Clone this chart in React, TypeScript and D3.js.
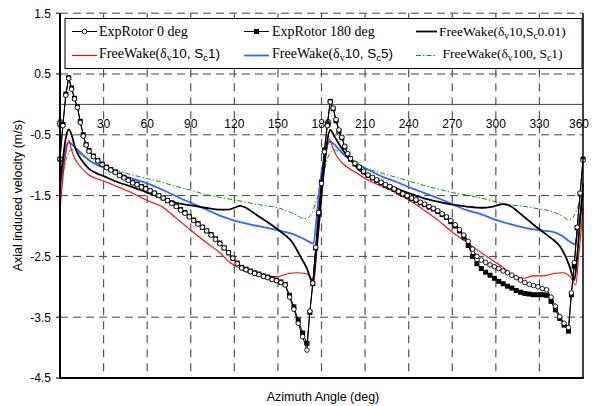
import React from 'react';
import * as d3 from 'd3';

// azimuth (deg) of the measured points
const expAz = [
  0, 2, 4, 6, 8, 10, 12, 14, 16, 18, 20,
  23, 26, 29, 32, 35, 38, 41, 44, 47, 50, 53, 56, 59, 62, 65, 68, 71, 74, 77, 80,
  83, 86, 89, 92, 95, 98, 101, 104, 107, 110, 113, 116, 119, 122, 125, 128, 131, 134, 137, 140,
  143, 146, 149, 152, 155, 158, 161, 164, 167, 170,
  172, 174, 176, 178, 180, 182, 184, 186, 188, 190, 192, 194, 196, 198, 200,
  203, 206, 209, 212, 215, 218, 221, 224, 227, 230, 233, 236, 239, 242, 245, 248, 251, 254, 257, 260,
  263, 266, 269, 272, 275, 278, 281, 284, 287, 290, 293, 296, 299, 302, 305, 308, 311, 314, 317, 320,
  323, 326, 329, 332, 335, 338, 341, 344, 347, 350,
  352, 354, 356, 358, 360,
];

const expRotor0 = [
  -0.9, -0.35, 0.15, 0.43, 0.25, 0.09, -0.05, -0.3, -0.52, -0.67, -0.77,
  -0.86, -0.93, -0.99, -1.04, -1.08, -1.12, -1.17, -1.21, -1.25, -1.29, -1.32, -1.36, -1.39, -1.42, -1.46, -1.5, -1.54, -1.58, -1.63, -1.68,
  -1.74, -1.79, -1.85, -1.91, -1.97, -2.02, -2.08, -2.15, -2.22, -2.29, -2.36, -2.44, -2.53, -2.62, -2.69, -2.72, -2.75, -2.78, -2.8, -2.83,
  -2.85, -2.88, -2.9, -2.93, -2.97, -3.17, -3.37, -3.6, -3.82, -4.04,
  -3.4, -2.94, -2.35, -1.78, -1.3, -0.78, -0.35, 0.04, -0.06, -0.25, -0.42, -0.54, -0.69, -0.81, -0.89,
  -0.97, -1.03, -1.1, -1.16, -1.2, -1.24, -1.28, -1.32, -1.35, -1.39, -1.43, -1.47, -1.5, -1.54, -1.57, -1.61, -1.64, -1.68, -1.71, -1.75,
  -1.8, -1.85, -1.91, -1.98, -2.06, -2.15, -2.25, -2.38, -2.5, -2.56, -2.6, -2.64, -2.67, -2.7, -2.74, -2.77, -2.81, -2.85, -2.89, -2.93,
  -2.96, -2.98, -3.0, -3.03, -3.05, -3.17, -3.32, -3.49, -3.6, -3.67,
  -3.1, -2.6, -2.02, -1.46, -0.92,
];

const expRotor180 = [
  -0.9, -0.33, 0.17, 0.44, 0.27, 0.1, -0.04, -0.28, -0.5, -0.66, -0.76,
  -0.85, -0.92, -0.98, -1.03, -1.07, -1.11, -1.16, -1.2, -1.24, -1.28, -1.31, -1.35, -1.38, -1.42, -1.46, -1.5, -1.54, -1.58, -1.62, -1.67,
  -1.73, -1.78, -1.84, -1.9, -1.96, -2.02, -2.08, -2.14, -2.21, -2.28, -2.36, -2.44, -2.53, -2.61, -2.68, -2.71, -2.74, -2.77, -2.79, -2.82,
  -2.84, -2.87, -2.89, -2.92, -2.96, -3.14, -3.33, -3.55, -3.76, -3.93,
  -3.42, -2.95, -2.36, -1.8, -1.28, -0.75, -0.32, 0.05, -0.07, -0.27, -0.44, -0.55, -0.7, -0.82, -0.9,
  -0.98, -1.04, -1.11, -1.17, -1.21, -1.25, -1.29, -1.33, -1.36, -1.4, -1.44, -1.48, -1.51, -1.55, -1.58, -1.62, -1.65, -1.69, -1.72, -1.76,
  -1.81, -1.86, -1.93, -2.0, -2.08, -2.18, -2.32, -2.5, -2.62, -2.7, -2.76, -2.81, -2.86, -2.91, -2.95, -2.99, -3.02, -3.06, -3.09, -3.11,
  -3.12, -3.13, -3.13, -3.13, -3.14, -3.24, -3.38, -3.52, -3.63, -3.73,
  -3.13, -2.66, -2.03, -1.47, -0.9,
];

// free wake results: [azimuth, velocity]
const fwSc001: [number, number][] = [
  [0, -1.3], [2, -0.9], [4, -0.55], [6, -0.41], [8, -0.5], [10, -0.68], [12, -0.8], [15, -0.92], [20, -1.06],
  [25, -1.13], [30, -1.18], [40, -1.28], [50, -1.36], [60, -1.45], [70, -1.54], [80, -1.62], [90, -1.66],
  [100, -1.7], [110, -1.73], [116, -1.73], [120, -1.7], [124, -1.67], [128, -1.7], [133, -1.78], [138, -1.86],
  [145, -1.97], [150, -2.06], [155, -2.15], [160, -2.27], [165, -2.48], [170, -2.7], [174, -2.93], [176, -2.5],
  [178, -2.0], [180, -1.5], [182, -1.0], [184, -0.6], [186, -0.42], [189, -0.53], [193, -0.69], [197, -0.83],
  [202, -0.97], [206, -1.08], [211, -1.17], [220, -1.27], [230, -1.37], [240, -1.46], [250, -1.54], [260, -1.6],
  [270, -1.65], [280, -1.68], [290, -1.7], [298, -1.68], [305, -1.64], [310, -1.67], [315, -1.76], [320, -1.86],
  [326, -1.98], [332, -2.09], [338, -2.2], [344, -2.33], [348, -2.5], [351, -2.68], [354, -2.89], [356, -2.5],
  [358, -1.9], [360, -1.3],
];

const fwSc1: [number, number][] = [
  [0, -1.74], [2, -1.2], [4, -0.8], [6, -0.59], [8, -0.75], [10, -0.88], [12, -0.96], [15, -1.05], [20, -1.16],
  [25, -1.22], [30, -1.26], [40, -1.36], [50, -1.46], [60, -1.58], [70, -1.68], [80, -1.87], [90, -2.07],
  [100, -2.26], [110, -2.44], [117, -2.6], [124, -2.7], [130, -2.77], [140, -2.82], [150, -2.83], [156, -2.79],
  [163, -2.77], [170, -2.79], [173, -2.86], [174.5, -2.94], [177, -2.35], [179, -1.85], [181, -1.25], [183, -0.85],
  [185.4, -0.57], [188, -0.73], [191, -0.87], [195, -0.98], [200, -1.07], [205, -1.14], [210, -1.22], [220, -1.33],
  [230, -1.44], [240, -1.57], [250, -1.73], [260, -1.9], [270, -2.1], [280, -2.27], [290, -2.44], [300, -2.6],
  [305, -2.68], [312, -2.81], [319, -2.86], [326, -2.82], [333, -2.82], [340, -2.78], [346, -2.77], [351, -2.83],
  [355, -2.97], [357, -2.5], [359, -2.0], [360, -1.7],
];

const fwSc5: [number, number][] = [
  [0, -1.46], [2, -1.05], [4, -0.72], [6, -0.63], [8, -0.65], [10, -0.7], [15, -0.81], [20, -0.92], [25, -0.99],
  [30, -1.04], [40, -1.14], [50, -1.22], [60, -1.3], [70, -1.4], [80, -1.51], [90, -1.62], [100, -1.72],
  [110, -1.83], [120, -1.91], [130, -1.97], [140, -2.02], [150, -2.07], [160, -2.13], [166, -2.19], [170, -2.24],
  [174.4, -2.29], [176.7, -1.85], [179, -1.3], [181, -0.97], [184, -0.67], [185.4, -0.61], [188, -0.64],
  [192, -0.74], [197, -0.86], [204, -0.99], [210, -1.05], [220, -1.17], [230, -1.26], [240, -1.36], [250, -1.45],
  [260, -1.54], [270, -1.64], [280, -1.74], [290, -1.81], [300, -1.9], [310, -1.97], [320, -2.03], [330, -2.07],
  [340, -2.1], [346, -2.17], [351, -2.26], [354.5, -2.3], [356.8, -2.01], [359, -1.68], [360, -1.46],
];

const fwDv100: [number, number][] = [
  [0, -1.45], [2, -1.15], [4, -0.92], [6, -0.8], [8, -0.74], [10, -0.74], [12, -0.78], [15, -0.84], [20, -0.91],
  [25, -0.97], [30, -1.01], [40, -1.09], [50, -1.16], [60, -1.22], [70, -1.28], [80, -1.35], [90, -1.41],
  [100, -1.48], [110, -1.53], [120, -1.57], [130, -1.62], [140, -1.66], [150, -1.7], [156, -1.75], [162, -1.81],
  [168, -1.88], [171, -1.86], [174, -1.76], [176, -1.62], [178, -1.47], [181, -1.2], [184, -0.9], [187, -0.77],
  [189, -0.75], [193, -0.8], [197, -0.86], [205, -0.96], [210, -1.04], [220, -1.12], [230, -1.19], [240, -1.26],
  [250, -1.33], [260, -1.39], [270, -1.45], [280, -1.49], [290, -1.54], [300, -1.6], [310, -1.65], [320, -1.68],
  [330, -1.72], [340, -1.77], [346, -1.84], [350, -1.9], [353, -1.86], [356, -1.72], [358, -1.58], [360, -1.52],
];

const xTicks = [0, 30, 60, 90, 120, 150, 180, 210, 240, 270, 300, 330, 360];
const yTicks = [1.5, 0.5, -0.5, -1.5, -2.5, -3.5, -4.5];

const serif = '"Liberation Serif", "Times New Roman", serif';
const sans = '"Liberation Sans", Arial, sans-serif';

export default function App() {
  const x = d3.scaleLinear().domain([0, 360]).range([60, 583]);
  const y = d3.scaleLinear().domain([-4.5, 1.5]).range([378, 13.2]);

  const simLine = d3.line<[number, number]>()
    .x(d => x(d[0])).y(d => y(d[1]))
    .curve(d3.curveMonotoneX);
  const expLine = d3.line<number>()
    .x((d, i) => x(expAz[i])).y(d => y(d));

  const [x0, x1] = x.range();
  const [yb, yt] = y.range();

  return (
    <svg width={595} height={406} style={{ position: 'absolute', left: 0, top: 0, background: '#fff' }}>
      {/* grid */}
      {yTicks.filter(t => t > -4.5).map(t => (
        <line key={'h' + t} x1={x0} x2={x1} y1={y(t)} y2={y(t)}
          stroke="#444" strokeWidth={1} strokeDasharray="8,5" />
      ))}
      {xTicks.filter(t => t > 0 && t < 360).map(t => (
        <line key={'v' + t} x1={x(t)} x2={x(t)} y1={yt} y2={yb}
          stroke="#555" strokeWidth={1.2} strokeDasharray="8,6" />
      ))}
      <line x1={x0} x2={x1} y1={y(0)} y2={y(0)} stroke="#444" strokeWidth={1} />

      {/* x tick labels sit under the zero line */}
      {xTicks.map(t => (
        <text key={'xt' + t} x={t === 360 ? x(t) - 4 : x(t)} y={y(0) + 24} textAnchor="middle"
          fontFamily={sans} fontSize={12} fill="#000">{t}</text>
      ))}

      {/* free wake */}
      <path d={simLine(fwDv100) || ''} fill="none" stroke="#009900" strokeWidth={1}
        strokeDasharray="5,2,1.5,2" />
      <path d={simLine(fwSc5) || ''} fill="none" stroke="#3366ff" strokeWidth={1.8} />
      <path d={simLine(fwSc1) || ''} fill="none" stroke="#ff0000" strokeWidth={1.1} />
      <path d={simLine(fwSc001) || ''} fill="none" stroke="#000" strokeWidth={1.8} />

      {/* experiment */}
      <path d={expLine(expRotor180) || ''} fill="none" stroke="#000" strokeWidth={1} />
      {expRotor180.map((v, i) => (
        <rect key={'s' + i} x={x(expAz[i]) - 2.5} y={y(v) - 2.5} width={5} height={5} fill="#000" />
      ))}
      <path d={expLine(expRotor0) || ''} fill="none" stroke="#000" strokeWidth={1} />
      {expRotor0.map((v, i) => (
        <circle key={'c' + i} cx={x(expAz[i])} cy={y(v)} r={2.3} fill="#fff" stroke="#000" strokeWidth={0.9} />
      ))}

      {/* legend */}
      <rect x={65} y={18.5} width={517} height={50} fill="#fff" stroke="#000" strokeWidth={1} />
      <g fontFamily={serif} fontSize={14} fill="#000">
        <line x1={72} x2={97} y1={31.5} y2={31.5} stroke="#000" strokeWidth={1} />
        <circle cx={84.5} cy={31.5} r={2.3} fill="#fff" stroke="#000" strokeWidth={0.9} />
        <text x={99} y={36}>ExpRotor 0 deg</text>

        <line x1={244} x2={269} y1={31.5} y2={31.5} stroke="#000" strokeWidth={1} />
        <rect x={254} y={29} width={5} height={5} fill="#000" />
        <text x={272} y={36}>ExpRotor 180 deg</text>

        <line x1={416} x2={437} y1={31.5} y2={31.5} stroke="#000" strokeWidth={1.8} />
        <text x={439} y={36} fontSize={13.5}>FreeWake(δ<tspan dy={3} fontSize={9.5}>v</tspan><tspan dy={-3}>10,S</tspan><tspan dy={3} fontSize={9.5}>c</tspan><tspan dy={-3}>0.01)</tspan></text>

        <line x1={72} x2={97} y1={55.5} y2={55.5} stroke="#ff0000" strokeWidth={1.1} />
        <text x={99} y={58}>FreeWake(δ<tspan dy={3} fontSize={10}>v</tspan><tspan dy={-3} fontFamily={sans} fontSize={13.5}>10, S</tspan><tspan dy={3} fontSize={9.5} fontFamily={sans}>c</tspan><tspan dy={-3} fontFamily={sans} fontSize={13.5}>1)</tspan></text>

        <line x1={244} x2={269} y1={55.5} y2={55.5} stroke="#3366ff" strokeWidth={1.8} />
        <text x={272} y={58}>FreeWake(δ<tspan dy={3} fontSize={10}>v</tspan><tspan dy={-3} fontFamily={sans} fontSize={13.5}>10, S</tspan><tspan dy={3} fontSize={9.5} fontFamily={sans}>c</tspan><tspan dy={-3} fontFamily={sans} fontSize={13.5}>5)</tspan></text>

        <line x1={416} x2={437} y1={55.5} y2={55.5} stroke="#009900" strokeWidth={1}
          strokeDasharray="5,2,1.5,2" />
        <text x={442.5} y={58} fontSize={13.5}>FreeWake(δ<tspan dy={3} fontSize={9.5}>v</tspan><tspan dy={-3}>100, S</tspan><tspan dy={3} fontSize={9.5}>c</tspan><tspan dy={-3}>1)</tspan></text>
      </g>

      {/* frame */}
      <line x1={x1} x2={x1} y1={yt} y2={yb} stroke="#000" strokeWidth={1.5} />
      <line x1={x0} x2={x0} y1={yt} y2={yb + 1} stroke="#000" strokeWidth={2} />
      <line x1={x0 - 1} x2={x1 + 0.75} y1={yb} y2={yb} stroke="#000" strokeWidth={2} />
      {yTicks.map(t => (
        <g key={'yt' + t}>
          <line x1={x0 - 4} x2={x0} y1={y(t)} y2={y(t)} stroke="#000" strokeWidth={1} />
          <text x={51} y={y(t) + 4.3} textAnchor="end" fontFamily={sans} fontSize={12} fill="#000">{t}</text>
        </g>
      ))}

      {/* axis titles */}
      <text x={323} y={401} textAnchor="middle" fontFamily={sans} fontSize={12.5} fill="#000">Azimuth Angle (deg)</text>
      <text transform={`translate(22,${(yt + yb) / 2}) rotate(-90)`} textAnchor="middle"
        fontFamily={sans} fontSize={12.5} fill="#000">Axial induced velocity (m/s)</text>
    </svg>
  );
}
